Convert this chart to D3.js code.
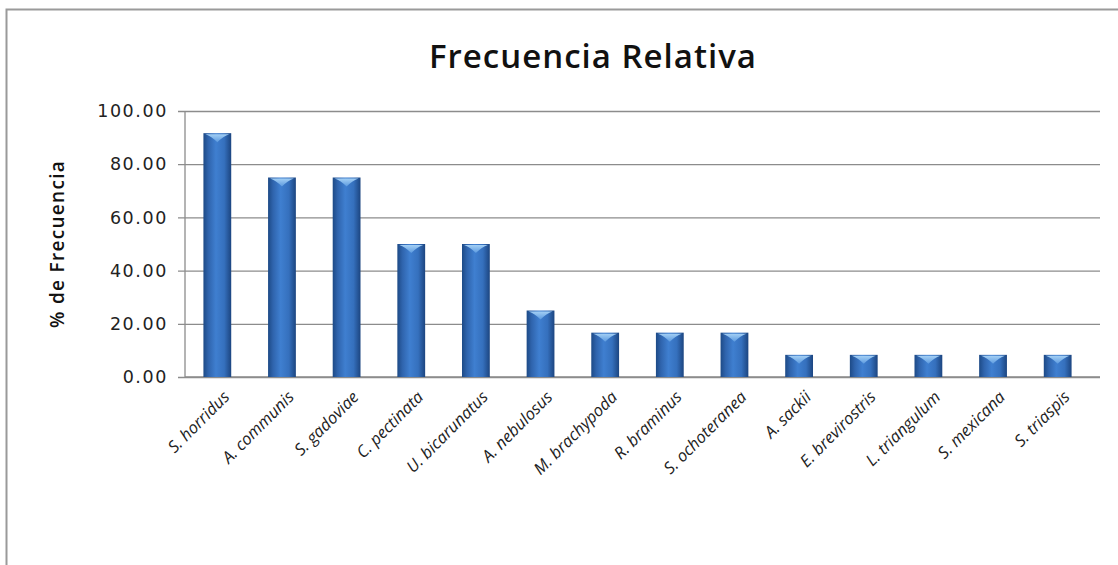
<!DOCTYPE html>
<html>
<head>
<meta charset="utf-8">
<script src="https://cdn.jsdelivr.net/npm/d3@7"></script>
<style>
  html, body { margin: 0; padding: 0; background: #fff; }
  svg { display: block; }
</style>
</head>
<body>
<svg id="chart" width="1118" height="565"></svg>
<script>
const categories = ["S. horridus", "A. communis", "S. gadoviae", "C. pectinata", "U. bicarunatus",
  "A. nebulosus", "M. brachypoda", "R. braminus", "S. ochoteranea", "A. sackii",
  "E. brevirostris", "L. triangulum", "S. mexicana", "S. triaspis"];
const values = [91.67, 75.00, 75.00, 50.00, 50.00, 25.00, 16.67, 16.67, 16.67, 8.33, 8.33, 8.33, 8.33, 8.33];
const yTicks = [0, 20, 40, 60, 80, 100];
const title = "Frecuencia Relativa";
const yTitle = "% de Frecuencia";

const svg = d3.select("#chart");
const W = 1118, H = 565;
const plot = { left: 185, right: 1100, top: 111, bottom: 377, bandRight: 1090 };

// outer chart border
svg.append("rect").attr("x", 6.5).attr("y", 9.5).attr("width", W + 20).attr("height", H + 20)
  .attr("fill", "#fff").attr("stroke", "#9a9a9a").attr("stroke-width", 2);

const x = d3.scaleBand().domain(categories).range([plot.left, plot.bandRight]).paddingInner(0.57).paddingOuter(0.285);
const y = d3.scaleLinear().domain([0, 100]).range([plot.bottom, plot.top]);

// gradients
const defs = svg.append("defs");
const g = defs.append("linearGradient").attr("id", "barGrad").attr("x1", "0").attr("x2", "1").attr("y1", "0").attr("y2", "0");
g.append("stop").attr("offset", "0%").attr("stop-color", "#1d4a86");
g.append("stop").attr("offset", "18%").attr("stop-color", "#2f64ad");
g.append("stop").attr("offset", "45%").attr("stop-color", "#3f7fd0");
g.append("stop").attr("offset", "75%").attr("stop-color", "#3570bd");
g.append("stop").attr("offset", "100%").attr("stop-color", "#1c4580");
const cg = defs.append("linearGradient").attr("id", "capGrad").attr("x1", "0").attr("x2", "0").attr("y1", "0").attr("y2", "1");
cg.append("stop").attr("offset", "0%").attr("stop-color", "#a9d4f7");
cg.append("stop").attr("offset", "100%").attr("stop-color", "#5d9be0");

// gridlines + y axis
const yAxis = d3.axisLeft(y).tickValues(yTicks).tickSize(-(plot.right - plot.left)).tickFormat(d3.format(".2f")).tickPadding(20);
const ya = svg.append("g").attr("transform", `translate(${plot.left},0)`).call(yAxis);
ya.select(".domain").remove();
ya.selectAll(".tick line").attr("stroke", "#8c8c8c").attr("stroke-width", 1.3).attr("x1", -7);
ya.selectAll(".tick text").attr("font-family", "DejaVu Sans, sans-serif").attr("font-size", 17.5)
  .attr("letter-spacing", "1.6px").attr("fill", "#222").attr("x", -17);

// plot frame
svg.append("line").attr("x1", plot.left).attr("x2", plot.left).attr("y1", plot.top).attr("y2", plot.bottom)
  .attr("stroke", "#8c8c8c").attr("stroke-width", 1.3);
svg.append("line").attr("x1", plot.left).attr("x2", plot.right).attr("y1", plot.bottom).attr("y2", plot.bottom)
  .attr("stroke", "#8c8c8c").attr("stroke-width", 1.5);

// bars
const bars = svg.append("g");
bars.selectAll("rect.bar").data(values).join("rect").attr("class", "bar")
  .attr("x", (d, i) => x(categories[i])).attr("width", x.bandwidth())
  .attr("y", d => y(d)).attr("height", d => y(0) - y(d))
  .attr("fill", "url(#barGrad)");
bars.selectAll("path.cap").data(values).join("path").attr("class", "cap")
  .attr("d", (d, i) => {
    const x0 = x(categories[i]), bw = x.bandwidth(), yt = y(d);
    return `M${x0 + 2},${yt + 1} L${x0 + bw - 2},${yt + 1} Q${x0 + bw / 2 + 6},${yt + 3} ${x0 + bw / 2},${yt + 9} Q${x0 + bw / 2 - 6},${yt + 3} ${x0 + 2},${yt + 1} Z`;
  })
  .attr("fill", "url(#capGrad)").attr("opacity", 0.95);

// x labels
svg.append("g").selectAll("text").data(categories).join("text")
  .attr("transform", d => `translate(${x(d) + x.bandwidth() / 2 + 9},${plot.bottom + 17}) rotate(-45)`)
  .attr("text-anchor", "end").attr("dy", "0.35em")
  .attr("font-family", "Open Sans, sans-serif").attr("font-style", "italic").attr("font-size", 16.5)
  .attr("fill", "#222").text(d => d);

// title
svg.append("text").attr("x", 593).attr("y", 68).attr("text-anchor", "middle")
  .attr("font-family", "Open Sans, sans-serif").attr("font-weight", 600).attr("font-size", 33)
  .attr("letter-spacing", "1px").attr("fill", "#111").text(title);

// y title
svg.append("text").attr("transform", `translate(64,244) rotate(-90)`).attr("text-anchor", "middle")
  .attr("font-family", "Open Sans, sans-serif").attr("font-weight", 600).attr("font-size", 19)
  .attr("letter-spacing", "1.3px").attr("fill", "#111").text(yTitle);
</script>
</body>
</html>
